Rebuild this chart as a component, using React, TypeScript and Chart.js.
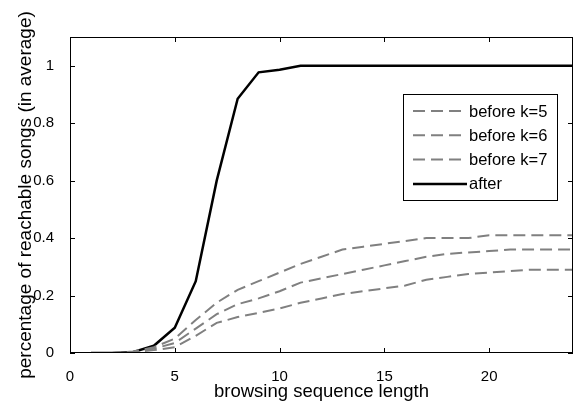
import React, { useEffect, useRef } from "react";
import { Chart, registerables } from "chart.js";

Chart.register(...registerables);

const lengths = [1, 2, 3, 4, 5, 6, 7, 8, 9, 10, 11, 12, 13, 14, 15, 16, 17, 18, 19, 20, 21, 22, 23, 24];
const beforeK5 = [0, 0, 0.005, 0.02, 0.05, 0.115, 0.175, 0.22, 0.25, 0.28, 0.31, 0.335, 0.36, 0.37, 0.38, 0.39, 0.4, 0.4, 0.4, 0.41, 0.41, 0.41, 0.41, 0.41];
const beforeK6 = [0, 0, 0.003, 0.015, 0.035, 0.085, 0.135, 0.17, 0.19, 0.215, 0.245, 0.26, 0.275, 0.29, 0.305, 0.32, 0.335, 0.345, 0.35, 0.355, 0.36, 0.36, 0.36, 0.36];
const beforeK7 = [0, 0, 0.002, 0.01, 0.02, 0.06, 0.105, 0.125, 0.14, 0.155, 0.175, 0.19, 0.205, 0.215, 0.225, 0.235, 0.255, 0.265, 0.275, 0.28, 0.285, 0.29, 0.29, 0.29];
const afterValues = [0, 0, 0.003, 0.025, 0.088, 0.25, 0.6, 0.885, 0.977, 0.986, 1, 1, 1, 1, 1, 1, 1, 1, 1, 1, 1, 1, 1, 1];
const seriesLabels = ["before k=5", "before k=6", "before k=7", "after"];
const xTicks = [0, 5, 10, 15, 20];
const yTicks = [0, 0.2, 0.4, 0.6, 0.8, 1];
const xTitle = "browsing sequence length";
const yTitle = "percentage of reachable songs (in average)";

const FONT = "'Liberation Sans', Arial, sans-serif";
const GRAY = "#808080";
const DASH = [12, 6];

const framePlugin = {
  id: "frameAndLegend",
  afterDatasetsDraw(chart: any) {
    const { ctx, chartArea: a, scales } = chart;
    ctx.save();
    ctx.strokeStyle = "#000";
    ctx.lineWidth = 1;
    ctx.setLineDash([]);
    ctx.strokeRect(a.left + 0.5, a.top + 0.5, a.right - a.left - 1, a.bottom - a.top - 1);
    const L = 5;
    ctx.beginPath();
    scales.x.ticks.forEach((t: any) => {
      const px = Math.round(scales.x.getPixelForValue(t.value)) + 0.5;
      ctx.moveTo(px, a.bottom);
      ctx.lineTo(px, a.bottom - L);
      ctx.moveTo(px, a.top);
      ctx.lineTo(px, a.top + L);
    });
    scales.y.ticks.forEach((t: any) => {
      const py = Math.round(scales.y.getPixelForValue(t.value)) + 0.5;
      ctx.moveTo(a.left, py);
      ctx.lineTo(a.left + L, py);
      ctx.moveTo(a.right, py);
      ctx.lineTo(a.right - L, py);
    });
    ctx.stroke();

    // legend box
    const bx = 403, by = 94, bw = 154, bh = 106;
    ctx.fillStyle = "#fff";
    ctx.fillRect(bx, by, bw, bh);
    ctx.strokeRect(bx + 0.5, by + 0.5, bw, bh);
    const datasets = chart.data.datasets;
    ctx.font = `16.5px ${FONT}`;
    ctx.textBaseline = "middle";
    ctx.textAlign = "left";
    datasets.forEach((ds: any, i: number) => {
      const y = 111 + i * 24.3;
      ctx.beginPath();
      ctx.strokeStyle = ds.borderColor;
      ctx.lineWidth = ds.borderWidth;
      ctx.setLineDash(ds.borderDash || []);
      ctx.moveTo(413, y);
      ctx.lineTo(467, y);
      ctx.stroke();
      ctx.setLineDash([]);
      ctx.fillStyle = "#000";
      ctx.fillText(ds.label, 469, y + 1);
    });
    ctx.restore();
  },
};

export default function App() {
  const ref = useRef<HTMLCanvasElement | null>(null);
  useEffect(() => {
    if (!ref.current) return;
    const mk = (label: string, data: number[], color: string, dash: number[], width: number) => ({
      label,
      data: lengths.map((x, i) => ({ x, y: data[i] })),
      borderColor: color,
      backgroundColor: color,
      borderWidth: width,
      borderDash: dash,
      pointRadius: 0,
      tension: 0,
      fill: false,
    });
    const chart = new Chart(ref.current, {
      type: "line",
      data: {
        datasets: [
          mk(seriesLabels[0], beforeK5, GRAY, DASH, 2),
          mk(seriesLabels[1], beforeK6, GRAY, DASH, 2),
          mk(seriesLabels[2], beforeK7, GRAY, DASH, 2),
          mk(seriesLabels[3], afterValues, "#000", [], 2.5),
        ],
      },
      options: {
        animation: false,
        responsive: false,
        layout: { padding: { top: 37, right: 1, left: 0, bottom: 0 } },
        plugins: { legend: { display: false }, tooltip: { enabled: false } },
        scales: {
          x: {
            type: "linear",
            min: 0,
            max: 24,
            afterBuildTicks: (s: any) => {
              s.ticks = xTicks.map((v) => ({ value: v }));
            },
            afterFit: (s: any) => {
              s.height = 50;
            },
            grid: { display: false },
            border: { display: false },
            ticks: {
              padding: 7,
              color: "#000",
              font: { family: FONT, size: 15 },
              maxRotation: 0,
              callback: (v: any) => String(v),
            },
            title: {
              display: true,
              text: xTitle,
              color: "#000",
              font: { family: FONT, size: 18.5 },
              padding: { top: 0, bottom: 0 },
            },
          },
          y: {
            type: "linear",
            min: 0,
            max: 1.1,
            afterBuildTicks: (s: any) => {
              s.ticks = yTicks.map((v) => ({ value: v }));
            },
            afterFit: (s: any) => {
              s.width = 70;
            },
            grid: { display: false },
            border: { display: false },
            ticks: {
              padding: 8,
              color: "#000",
              font: { family: FONT, size: 15 },
              callback: (v: any) => String(Number(Number(v).toFixed(1))),
            },
            title: {
              display: true,
              text: yTitle,
              color: "#000",
              font: { family: FONT, size: 19 },
              padding: { top: 14, bottom: 0 },
            },
          },
        },
      },
      plugins: [framePlugin],
    });
    return () => chart.destroy();
  }, []);
  return (
    <div style={{ position: "absolute", left: 0, top: 0, width: 574, height: 403, background: "#fff" }}>
      <canvas ref={ref} width={574} height={403} style={{ display: "block" }} />
    </div>
  );
}
